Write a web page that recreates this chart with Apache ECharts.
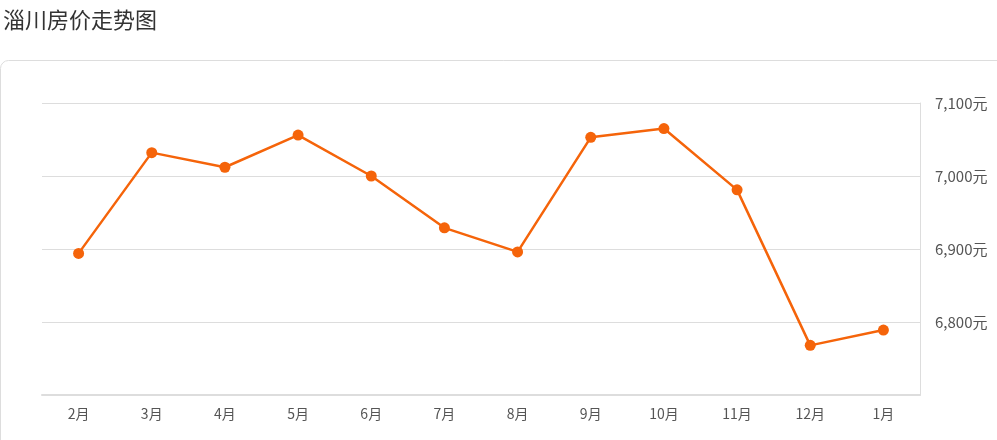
<!DOCTYPE html>
<html><head><meta charset="utf-8">
<script src="https://cdn.jsdelivr.net/npm/echarts@6/dist/echarts.min.js"></script>
<style>html,body{margin:0;padding:0;background:#fff}#c{width:997px;height:440px}</style>
</head><body><div id="c"></div>
<script>
const categories = ['2月','3月','4月','5月','6月','7月','8月','9月','10月','11月','12月','1月'];
const prices = [6894, 7032, 7012, 7056, 7000, 6929, 6896, 7053, 7065, 6981, 6768, 6789];
const chart = echarts.init(document.getElementById('c'));
chart.setOption({
  animation: false,
  title: { text: '淄川房价走势图', left: -2, top: 4, textStyle: { fontSize: 22, fontWeight: 'normal', color: '#333', fontFamily: 'Noto Sans CJK SC' } },
  graphic: [{ type: 'rect', shape: { x: 0.5, y: 60.5, width: 1010, height: 400, r: 8 }, style: { fill: 'none', stroke: '#ddd', lineWidth: 1 } }],
  grid: { left: 42, right: 77, top: 103, bottom: 45 },
  xAxis: { type: 'category', data: categories, boundaryGap: true,
    axisLine: { lineStyle: { color: '#ddd', width: 2 } },
    axisTick: { alignWithLabel: true, lineStyle: { color: '#ddd' } },
    axisLabel: { color: '#555', fontSize: 14, margin: 12, fontFamily: 'Noto Sans CJK SC' } },
  yAxis: { type: 'value', position: 'right', min: 6700, max: 7100, interval: 100,
    axisLine: { show: true, lineStyle: { color: '#ddd' } }, axisTick: { show: false },
    splitLine: { lineStyle: { color: '#ddd' } },
    axisLabel: { color: '#555', fontSize: 15, margin: 15, showMinLabel: false, formatter: '{value}元', fontFamily: 'Noto Sans CJK SC' } },
  series: [{ type: 'line', data: prices, symbol: 'circle', symbolSize: 11,
    itemStyle: { color: '#f5640a' }, lineStyle: { color: '#f5640a', width: 2.5 } }]
});
</script></body></html>
